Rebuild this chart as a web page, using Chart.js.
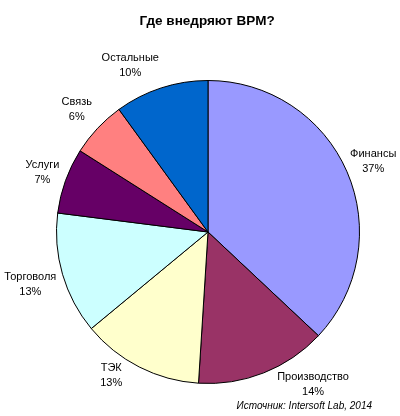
<!DOCTYPE html>
<html>
<head>
<meta charset="utf-8">
<script src="https://cdn.jsdelivr.net/npm/chart.js@4/dist/chart.umd.min.js"></script>
<style>
  html, body { margin: 0; padding: 0; background: #fff; }
  #wrap { width: 400px; height: 416px; }
</style>
</head>
<body>
<div id="wrap"><canvas id="pie" width="400" height="416"></canvas></div>
<script>
const categories = ["Финансы", "Производство", "ТЭК", "Торговоля", "Услуги", "Связь", "Остальные"];
const shares = [37, 14, 13, 13, 7, 6, 10];
const sliceColors = ["#9999FF", "#993366", "#FFFFCC", "#CCFFFF", "#660066", "#FF8080", "#0066CC"];

// where each label sits relative to its slice: distance from centre, angle nudge (deg)
const labelPlacement = [
  { r: 180, da: 0 },
  { r: 185, da: -13 },
  { r: 173, da: 7 },
  { r: 185, da: 0 },
  { r: 176, da: 0 },
  { r: 180, da: 0 },
  { r: 184, da: -7 }
];

const textPlugin = {
  id: "textPlugin",
  afterDraw(chart) {
    const ctx = chart.ctx;
    ctx.save();
    ctx.fillStyle = "#000";
    ctx.textAlign = "center";
    ctx.textBaseline = "middle";

    ctx.font = "bold 13.5px 'Liberation Sans', Arial, sans-serif";
    ctx.fillText("Где внедряют BPM?", 207, 21);

    ctx.font = "11px 'Liberation Sans', Arial, sans-serif";
    const meta = chart.getDatasetMeta(0);
    meta.data.forEach(function (arc, i) {
      const p = labelPlacement[i];
      const mid = (arc.startAngle + arc.endAngle) / 2 + p.da * Math.PI / 180;
      const x = arc.x + p.r * Math.cos(mid);
      const y = arc.y + p.r * Math.sin(mid);
      ctx.fillText(categories[i], x, y - 7);
      ctx.fillText(shares[i] + "%", x, y + 8);
    });

    ctx.font = "italic 10px 'Liberation Sans', Arial, sans-serif";
    ctx.textAlign = "right";
    ctx.fillText("Источник: Intersoft Lab, 2014", 372, 406);
    ctx.restore();
  }
};

const pie = new Chart(document.getElementById("pie").getContext("2d"), {
  type: "pie",
  data: {
    labels: categories,
    datasets: [
      {
        data: shares,
        backgroundColor: sliceColors,
        borderColor: "#000",
        borderWidth: 1,
        hoverOffset: 0
      }
    ]
  },
  options: {
    responsive: false,
    animation: false,
    devicePixelRatio: 1,
    layout: { padding: { left: 56, right: 40, top: 80, bottom: 32 } },
    plugins: {
      legend: { display: false },
      tooltip: { enabled: false }
    }
  },
  plugins: [textPlugin]
});
</script>
</body>
</html>
